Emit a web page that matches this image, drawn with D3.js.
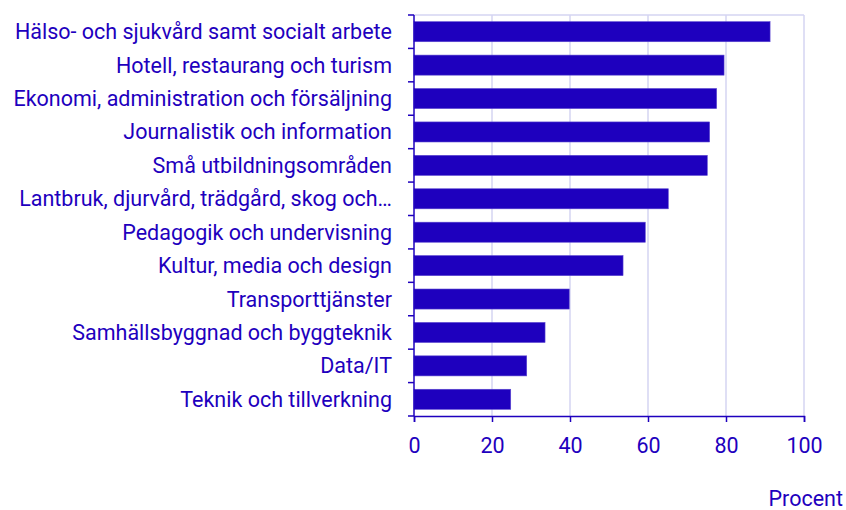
<!DOCTYPE html>
<html lang="sv">
<head>
    <meta charset="UTF-8">
    <title>Utbildningsområden</title>
    <style>
        body { margin: 0; background: #ffffff; }
        svg text { font-family: Roboto, "Noto Sans", sans-serif; fill: #1e00be; }
    </style>
</head>
<body>
    <div id="chart"></div>
    <script src="https://d3js.org/d3.v7.min.js"></script>
    <script>
        // Data
        var categories = [
            "Hälso- och sjukvård samt socialt arbete",
            "Hotell, restaurang och turism",
            "Ekonomi, administration och försäljning",
            "Journalistik och information",
            "Små utbildningsområden",
            "Lantbruk, djurvård, trädgård, skog och…",
            "Pedagogik och undervisning",
            "Kultur, media och design",
            "Transporttjänster",
            "Samhällsbyggnad och byggteknik",
            "Data/IT",
            "Teknik och tillverkning"
        ];
        var values = [91.3, 79.5, 77.6, 75.8, 75.2, 65.2, 59.3, 53.6, 39.8, 33.6, 28.9, 24.8];
        var xTicks = [0, 20, 40, 60, 80, 100];
        var unitLabel = "Procent";

        var width = 846, height = 510;
        var margin = { top: 15, right: 42, bottom: 94, left: 414 };
        var blue = "#1e00be";
        var fontSize = "21.5px";

        var svg = d3.select("#chart").append("svg")
            .attr("width", width)
            .attr("height", height);

        var g = svg.append("g")
            .attr("transform", "translate(" + margin.left + "," + margin.top + ")");

        var innerW = width - margin.left - margin.right;
        var innerH = height - margin.top - margin.bottom;

        var x = d3.scaleLinear().domain([0, 100]).range([0, innerW]);
        var y = d3.scaleBand().domain(categories).range([0, innerH]).paddingInner(0.4).paddingOuter(0.2);

        // gridlines
        g.selectAll(".grid")
            .data(xTicks.slice(1))
            .enter().append("line")
            .attr("x1", function(d) { return x(d); })
            .attr("x2", function(d) { return x(d); })
            .attr("y1", 0)
            .attr("y2", innerH)
            .attr("stroke", "#d4d4f2")
            .attr("stroke-width", 1.5);

        g.append("line")
            .attr("x1", 0).attr("x2", innerW)
            .attr("y1", 0).attr("y2", 0)
            .attr("stroke", "#d4d4f2")
            .attr("stroke-width", 1.5);

        // bars
        g.selectAll(".bar")
            .data(values)
            .enter().append("rect")
            .attr("x", 0)
            .attr("y", function(d, i) { return y(categories[i]); })
            .attr("width", function(d) { return x(d); })
            .attr("height", y.bandwidth())
            .attr("fill", blue)
            .attr("stroke", "#5a45d0")
            .attr("stroke-width", 0.6);

        // y axis: ticks at band boundaries
        var step = y.step();
        var boundaries = d3.range(categories.length + 1).map(function(i) { return i * step; });
        g.append("line")
            .attr("x1", 0).attr("x2", 0)
            .attr("y1", 0).attr("y2", innerH)
            .attr("stroke", blue).attr("stroke-width", 1.5);
        g.selectAll(".ytick")
            .data(boundaries)
            .enter().append("line")
            .attr("x1", -6).attr("x2", 0)
            .attr("y1", function(d) { return d; })
            .attr("y2", function(d) { return d; })
            .attr("stroke", blue).attr("stroke-width", 1.5);

        g.selectAll(".ylabel")
            .data(categories)
            .enter().append("text")
            .attr("x", -22)
            .attr("y", function(d) { return y(d) + y.bandwidth() / 2; })
            .attr("dy", "0.35em")
            .attr("text-anchor", "end")
            .attr("font-size", fontSize)
            .text(function(d) { return d; });

        // x axis
        var xAxis = g.append("g")
            .attr("transform", "translate(0," + innerH + ")")
            .call(d3.axisBottom(x).tickValues(xTicks).tickSize(6).tickPadding(16));
        xAxis.select(".domain").attr("stroke", blue).attr("stroke-width", 1.5);
        xAxis.selectAll(".tick line").attr("stroke", blue).attr("stroke-width", 1.5);
        xAxis.selectAll(".tick text")
            .attr("font-size", fontSize)
            .style("font-family", "Roboto, sans-serif")
            .attr("fill", blue);

        svg.append("text")
            .attr("x", 843)
            .attr("y", 506)
            .attr("text-anchor", "end")
            .attr("font-size", fontSize)
            .text(unitLabel);
    </script>
</body>
</html>
